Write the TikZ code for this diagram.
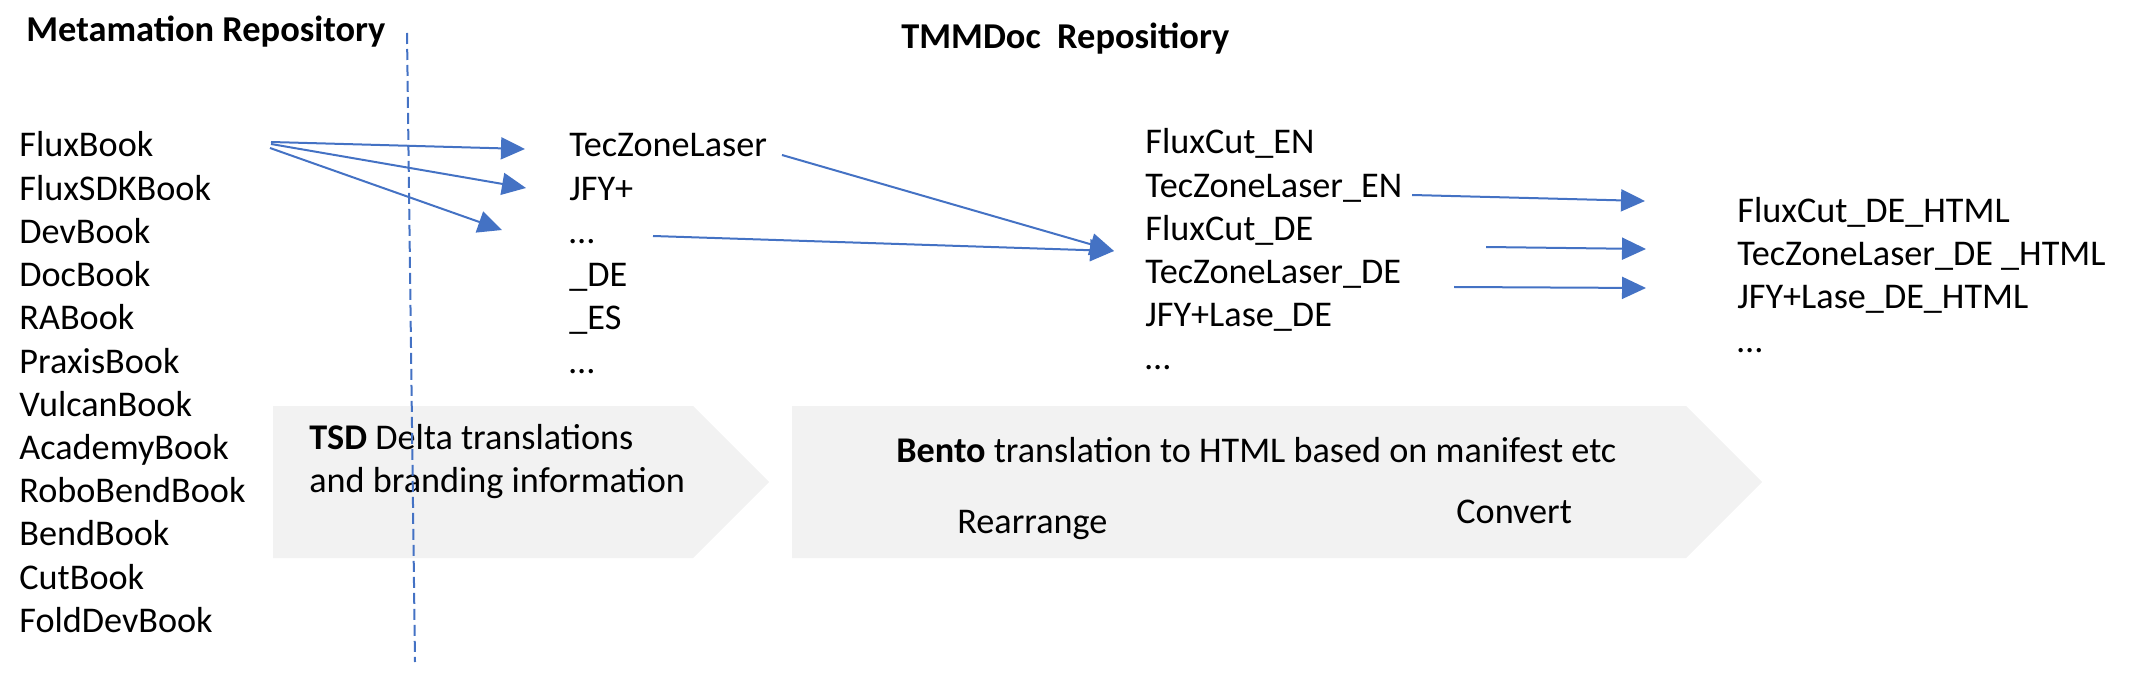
\documentclass[tikz,border=0pt]{standalone}
\usepackage{fontspec}
\setmainfont{Carlito}
\usetikzlibrary{arrows.meta}
\definecolor{arrowblue}{HTML}{4472C4}
\definecolor{boxgrey}{HTML}{F2F2F2}
\begin{document}
\begin{tikzpicture}[x=0.5pt,y=-0.5pt,
  lbl/.style={anchor=base west,inner sep=0pt,font=\fontsize{18.1pt}{21pt}\selectfont},
  ttl/.style={anchor=base west,inner sep=0pt,font=\fontsize{18.2pt}{21pt}\selectfont\bfseries},
  conn/.style={draw=arrowblue,line width=1pt,-{Triangle[length=12pt,width=11pt]}},
  divider/.style={draw=arrowblue,line width=1pt,dash pattern=on 5.5pt off 2.5pt},
  chev/.style={fill=boxgrey}]
\useasboundingbox (0,0) rectangle (2156,689);
% chevrons
\fill[chev] (273,406) -- (693,406) -- (769,482) -- (693,558) -- (273,558) -- cycle;
\fill[chev] (792,406) -- (1686,406) -- (1762,482) -- (1686,558) -- (792,558) -- cycle;
% titles
\node[ttl] (t1) at (26,42) {Metamation Repository};
\node[ttl] (t2) at (901,49) {TMMDoc~~Repositiory};
% column 1
\node[lbl] (c1a) at (19,157) {FluxBook};
\node[lbl] (c1b) at (19,200.2) {FluxSDKBook};
\node[lbl] (c1c) at (19,243.4) {DevBook};
\node[lbl] (c1d) at (19,286.6) {DocBook};
\node[lbl] (c1e) at (19,329.8) {RABook};
\node[lbl] (c1f) at (19,373) {PraxisBook};
\node[lbl] (c1g) at (19,416.2) {VulcanBook};
\node[lbl] (c1h) at (19,459.4) {AcademyBook};
\node[lbl] (c1i) at (19,502.6) {RoboBendBook};
\node[lbl] (c1j) at (19,545.8) {BendBook};
\node[lbl] (c1k) at (19,589) {CutBook};
\node[lbl] (c1l) at (19,632.2) {FoldDevBook};
% column 2
\node[lbl] (c2a) at (569,157) {TecZoneLaser};
\node[lbl] (c2b) at (569,200.2) {JFY+};
\node[lbl] (c2c) at (569,243.4) {…};
\node[lbl] (c2d) at (569,286.6) {\_DE};
\node[lbl] (c2e) at (569,329.8) {\_ES};
\node[lbl] (c2f) at (569,373) {…};
% column 3
\node[lbl] (c3a) at (1145,154) {FluxCut\_EN};
\node[lbl] (c3b) at (1145,197.2) {TecZoneLaser\_EN};
\node[lbl] (c3c) at (1145,240.4) {FluxCut\_DE};
\node[lbl] (c3d) at (1145,283.6) {TecZoneLaser\_DE};
\node[lbl] (c3e) at (1145,326.8) {JFY+Lase\_DE};
\node[lbl] (c3f) at (1145,370) {…};
% column 4
\node[lbl] (c4a) at (1737,223) {FluxCut\_DE\_HTML};
\node[lbl] (c4b) at (1737,266) {TecZoneLaser\_DE \_HTML};
\node[lbl] (c4c) at (1737,309) {JFY+Lase\_DE\_HTML};
\node[lbl] (c4d) at (1737,352.6) {…};
% box texts
\node[lbl] (tsd1) at (309,449) {\textbf{TSD} Delta translations};
\node[lbl] (tsd2) at (309,492) {and branding information};
\node[lbl] (bento) at (896,462) {\textbf{Bento} translation to HTML based on manifest etc};
\node[lbl] (rearr) at (957,533) {Rearrange};
\node[lbl] (conv) at (1456,523) {Convert};
% divider
\coordinate (dtop) at (407,33);
\coordinate (dbot) at (415,662);
\draw[divider] (dtop) -- (dbot);
% connector end points
\coordinate (a1s) at (271,142); \coordinate (a1e) at (525,149);
\coordinate (a2s) at (271,144); \coordinate (a2e) at (526,188);
\coordinate (a3s) at (270,148); \coordinate (a3e) at (502,230);
\coordinate (a4s) at (782,155); \coordinate (a45e) at (1114,251);
\coordinate (a5s) at (653,236);
\coordinate (a6s) at (1412,195); \coordinate (a6e) at (1645,201);
\coordinate (a7s) at (1486,247); \coordinate (a7e) at (1646,249);
\coordinate (a8s) at (1454,287); \coordinate (a8e) at (1646,288);
\draw[conn] (a1s) -- (a1e);
\draw[conn] (a2s) -- (a2e);
\draw[conn] (a3s) -- (a3e);
\draw[conn] (a4s) -- (a45e);
\draw[conn] (a5s) -- (a45e);
\draw[conn] (a6s) -- (a6e);
\draw[conn] (a7s) -- (a7e);
\draw[conn] (a8s) -- (a8e);
\end{tikzpicture}
\end{document}
